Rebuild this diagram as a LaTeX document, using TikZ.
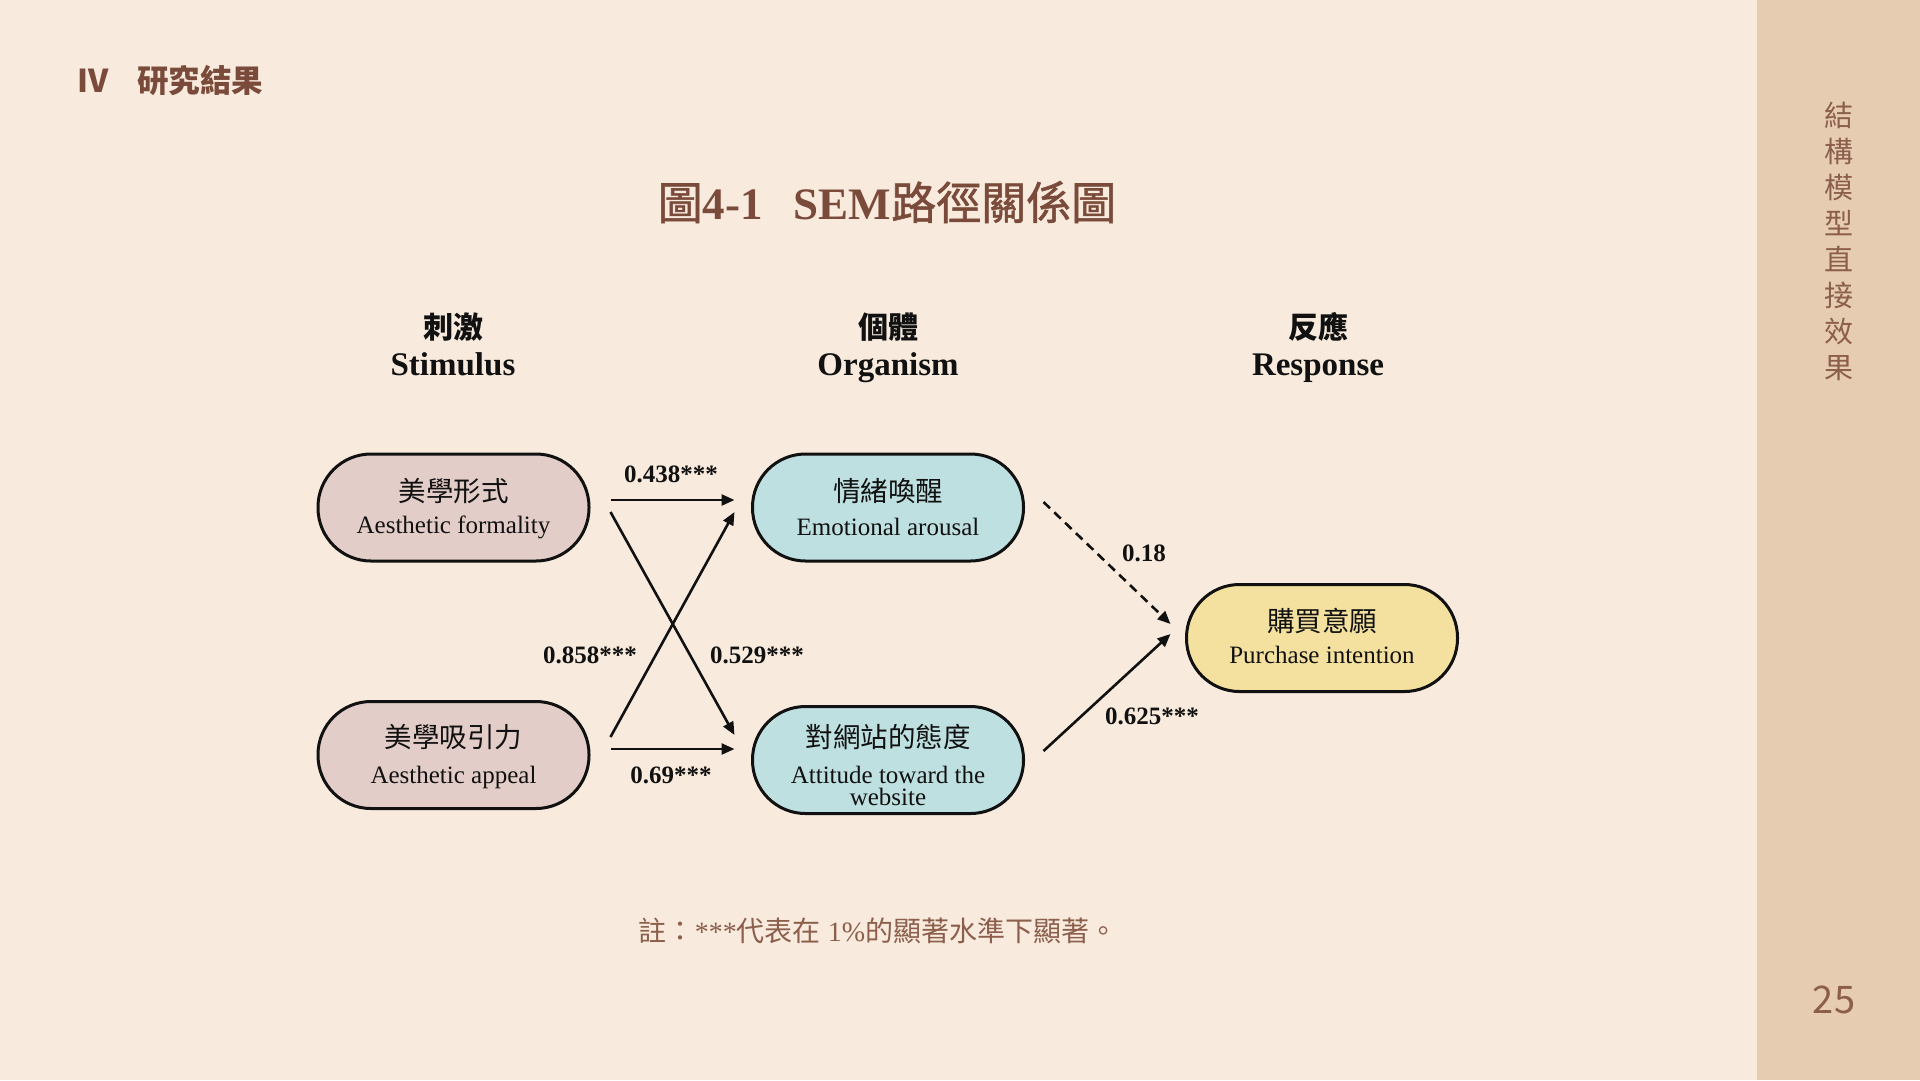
\documentclass[tikz,border=0pt]{standalone}
\usepackage{fontspec}
\setmainfont{Liberation Serif}
\newfontfamily\cjk{Noto Sans CJK TC}
\newfontfamily\cjkm[FakeBold=1.2]{Noto Sans CJK TC}
\usetikzlibrary{arrows.meta,calc}
\definecolor{bgc}{HTML}{F8EBDD}
\definecolor{sidec}{HTML}{E6CDB2}
\definecolor{brownc}{HTML}{7A4A3A}
\definecolor{notec}{HTML}{8C5E4C}
\definecolor{pinkc}{HTML}{E3CDC8}
\definecolor{tealc}{HTML}{BFE0E0}
\definecolor{yellowc}{HTML}{F4E19F}
\definecolor{inkc}{HTML}{111111}
\tikzset{
  stadium/.style={draw=inkc, line width=3pt, minimum width=271pt, minimum height=107pt, rounded corners=53pt, inner sep=0pt},
  cjkname/.style={font=\cjk\fontsize{27.5}{30}\selectfont, text=inkc, inner sep=0pt},
  engname/.style={font=\fontsize{25}{22}\selectfont, text=inkc, inner sep=0pt, align=center},
  colhead/.style={font=\bfseries\fontsize{33}{36}\selectfont, text=inkc, inner sep=0pt, anchor=base},
  colheadz/.style={font=\cjk\bfseries\fontsize{30}{32}\selectfont, text=inkc, inner sep=0pt},
  coef/.style={font=\bfseries\fontsize{25}{27}\selectfont, text=inkc, inner sep=0pt},
  arr/.style={draw=inkc, line width=2.6pt, -{Triangle[length=13pt,width=11pt]}},
}
\begin{document}
\begin{tikzpicture}[x=1pt,y=-1pt]
\useasboundingbox (0,0) rectangle (1920,1080);
\fill[bgc] (0,0) rectangle (1920,1080);
\fill[sidec] (1757,0) rectangle (1920,1080);

% header
\node[anchor=west, inner sep=0pt, text=brownc, font=\cjk\bfseries\fontsize{31.5}{33}\selectfont] (sec) at (77,81) {IV\hspace{29pt}研究結果};

% sidebar
\node[inner sep=0pt, text=notec, align=center, font=\cjk\fontsize{29}{35.9}\selectfont] (side) at (1839,241.5) {結\\構\\模\\型\\直\\接\\效\\果};
\node[inner sep=0pt, text=notec, font=\cjk\fontsize{38}{40}\selectfont] (pg) at (1834,1000) {25};

% title
\node[inner sep=0pt, text=brownc, font=\bfseries\fontsize{45}{50}\selectfont] (title) at (887,202) {{\cjkm\mdseries 圖}4-1\hspace{31pt}SEM{\cjkm\mdseries 路徑關係圖}};

% column headers
\node[colheadz] (h1z) at (453,327) {刺激};
\node[colhead] (h1) at (453,375) {Stimulus};
\node[colheadz] (h2z) at (888,327) {個體};
\node[colhead] (h2) at (888,375) {Organism};
\node[colheadz] (h3z) at (1318,327) {反應};
\node[colhead] (h3) at (1318,375) {Response};

% nodes
\node[stadium, fill=pinkc] (af) at (453.5,507.5) {};
\node[cjkname] (afz) at (453.5,491) {美學形式};
\node[engname] (afe) at (453.5,527.5) {Aesthetic formality};

\node[stadium, fill=pinkc] (aa) at (453.5,755) {};
\node[cjkname] (aaz) at (453.5,737) {美學吸引力};
\node[engname] (aae) at (453.5,777) {Aesthetic appeal};

\node[stadium, fill=tealc] (ea) at (888,507.5) {};
\node[cjkname] (eaz) at (888,491) {情緒喚醒};
\node[engname] (eae) at (888,526.5) {Emotional arousal};

\node[stadium, fill=tealc] (at) at (888,760) {};
\node[cjkname] (atz) at (888,737) {對網站的態度};
\node[engname] (ate) at (888,786) {Attitude toward the\\website};

\node[stadium, fill=yellowc] (pi) at (1322,638) {};
\node[cjkname] (piz) at (1322,621) {購買意願};
\node[engname] (pie) at (1322,655) {Purchase intention};

% connectors
\draw[arr] ($(af.east)+(20,-7.5)$) -- ($(ea.west)+(-16.5,-7.5)$);
\draw[arr] ($(af.east)+(20,4.5)$) -- ($(at.west)+(-16.5,-25)$);
\draw[arr] ($(aa.east)+(20,-18)$) -- ($(ea.west)+(-16.5,4.5)$);
\draw[arr] ($(aa.east)+(20,-6)$) -- ($(at.west)+(-16.5,-11)$);
\draw[arr, dash pattern=on 9pt off 6pt] ($(ea.east)+(18.5,-5.5)$) -- ($(pi.west)+(-14.5,-14)$);
\draw[arr] ($(at.east)+(18.5,-9)$) -- ($(pi.west)+(-14.5,-4)$);

% coefficients
\node[coef] (c1) at (671,474) {0.438***};
\node[coef] (c2) at (757,655) {0.529***};
\node[coef] (c3) at (590,655) {0.858***};
\node[coef] (c4) at (671,775) {0.69***};
\node[coef] (c5) at (1144,553) {0.18};
\node[coef] (c6) at (1152,716) {0.625***};

% note
\node[inner sep=0pt, text=notec, font=\fontsize{28}{30}\selectfont] (note) at (878,931) {{\cjk 註：}***{\cjk 代表在} 1\%{\cjk 的顯著水準下顯著。}};
\end{tikzpicture}
\end{document}
